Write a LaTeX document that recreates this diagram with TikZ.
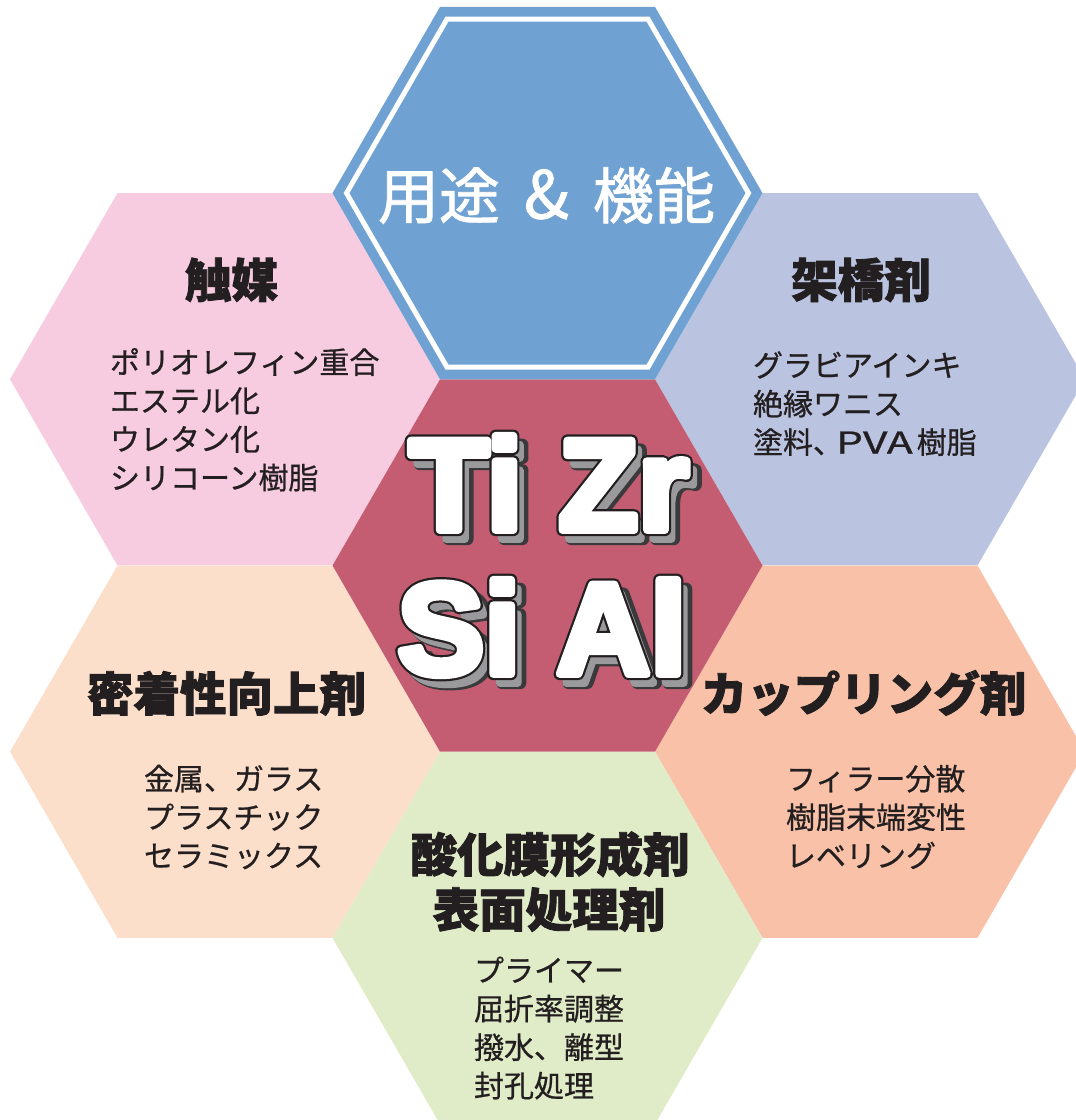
\documentclass[tikz,border=0pt]{standalone}
\usepackage{fontspec}
\usepackage{graphicx}
\newfontfamily\jp{Noto Sans CJK JP}[FakeBold=0.7]
\newfontfamily\jpm{Noto Sans CJK JP}[FakeBold=1.3]
\newfontfamily\jpb{Noto Sans CJK JP}[BoldFeatures={FakeBold=1.8}]
\newfontfamily\elemfont{Liberation Sans}[BoldFeatures={FakeBold=6}]
\newfontfamily\elemoutfont{Liberation Sans}[BoldFeatures={FakeBold=9.4}]
\definecolor{hexblue}{HTML}{6FA2D2}
\definecolor{hexred}{HTML}{C45D72}
\definecolor{hexpink}{HTML}{F7CCE0}
\definecolor{hexlav}{HTML}{BAC3E0}
\definecolor{hexpeach}{HTML}{FCDFCB}
\definecolor{hexsalmon}{HTML}{F9C2A8}
\definecolor{hexgreen}{HTML}{E0EBC8}
\definecolor{ink}{HTML}{231F20}
\definecolor{shadowdark}{HTML}{3A3A3C}
\definecolor{shadowlight}{HTML}{9A9A9C}
\newcommand\hexat[3]{\fill[#3] (#1) ++(#2,0) -- ++(-#2/2,0.866*#2) -- ++(-#2,0) -- ++(-#2/2,-0.866*#2) -- ++(#2/2,-0.866*#2) -- ++(#2,0) -- cycle;}
\newcommand\hexline[3]{\draw[#3] (#1) ++(#2,0) -- ++(-#2/2,0.866*#2) -- ++(-#2,0) -- ++(-#2/2,-0.866*#2) -- ++(#2/2,-0.866*#2) -- ++(#2,0) -- cycle;}
\newcommand\roundjoin{\special{pdf:literal direct 1 j 1 J}}
\tikzset{
  cattitle/.style={font=\jpb\bfseries\fontsize{46.5}{46.5}\selectfont, text=ink, anchor=base},
  itemtxt/.style={font=\jp\fontsize{30}{30}\selectfont, text=ink, anchor=base west},
  elemtxt/.style={font=\elemfont\bfseries\fontsize{130}{130}\selectfont, anchor=base},
  elemout/.style={font=\elemoutfont\bfseries\fontsize{130}{130}\selectfont, anchor=base},
}
\newcommand\elemline[4]{%
  \node[elemout, text=shadowdark] (#1-sd) at (#2+9,#3+9) {\roundjoin#4};
  \node[elemtxt, text=shadowlight] (#1-sl) at (#2+6.5,#3+9) {\roundjoin#4};
  \node[elemout, text=ink] (#1-o) at (#2,#3) {\roundjoin#4};
  \node[elemtxt, text=white] (#1) at (#2,#3) {\roundjoin#4};
}
\usetikzlibrary{calc}
\begin{document}
\begin{tikzpicture}[x=1pt,y=-1pt, every node/.style={inner sep=0pt, outer sep=0pt}]
\useasboundingbox (0,0) rectangle (1076,1120);
\clip (0,0) rectangle (1076,1120);
\coordinate (cC) at (547.5,565.5);
\coordinate (cT) at (547.5,193.1);
\coordinate (cTL) at (225,379.3);
\coordinate (cTR) at (870,379.3);
\coordinate (cBL) at (225,751.7);
\coordinate (cBR) at (870,751.7);
\coordinate (cB) at (547.5,937.9);
\hexat{cTL}{215}{hexpink}
\hexat{cTR}{215}{hexlav}
\hexat{cBL}{215}{hexpeach}
\hexat{cBR}{215}{hexsalmon}
\hexat{cB}{215}{hexgreen}
\hexat{cC}{215}{hexred}
\hexat{cT}{215}{hexblue}
\hexline{cT}{201}{white, line width=5pt}
% title
\node[font=\jpm\fontsize{61}{61}\selectfont, text=white, anchor=base west] (title) at (378,218.5) {用途\hspace{24pt}{\fontsize{66}{66}\selectfont\&}\hspace{24pt}機能};
% categories
\node[cattitle] (cat1) at (231.5,297.5) {触媒};
\node[itemtxt] (i11) at (110,373.5) {ポリオレフィン重合};
\node[itemtxt] (i12) at (110,412) {エステル化};
\node[itemtxt] (i13) at (110,450.5) {ウレタン化};
\node[itemtxt] (i14) at (110,489) {シリコーン樹脂};
\node[cattitle] (cat2) at (861,297.5) {架橋剤};
\node[itemtxt] (i21) at (753,376.5) {グラビアインキ};
\node[itemtxt] (i22) at (753,415) {絶縁ワニス};
\node[itemtxt] (i23) at (753,453.5) {塗料、\kern-7pt\scalebox{1.42}[1]{PVA}\kern4pt 樹脂};
\node[cattitle] (cat3) at (226.5,711) {密着性向上剤};
\node[itemtxt] (i31) at (144,790) {金属、ガラス};
\node[itemtxt] (i32) at (144,828.5) {プラスチック};
\node[itemtxt] (i33) at (144,867) {セラミックス};
\node[cattitle] (cat4) at (863.5,711) {カップリング剤};
\node[itemtxt] (i41) at (786,790) {フィラー分散};
\node[itemtxt] (i42) at (786,828.5) {樹脂末端変性};
\node[itemtxt] (i43) at (786,867) {レベリング};
\node[cattitle] (cat5a) at (550,872) {酸化膜形成剤};
\node[cattitle] (cat5b) at (549,927) {表面処理剤};
\node[itemtxt] (i51) at (474,981.5) {プライマー};
\node[itemtxt] (i52) at (474,1020) {屈折率調整};
\node[itemtxt] (i53) at (474,1058.5) {撥水、離型};
\node[itemtxt] (i54) at (474,1097) {封孔処理};
% elements
\elemline{tizr}{549}{530}{Ti Zr}
\elemline{sial}{542}{674}{Si Al}
\end{tikzpicture}
\end{document}
